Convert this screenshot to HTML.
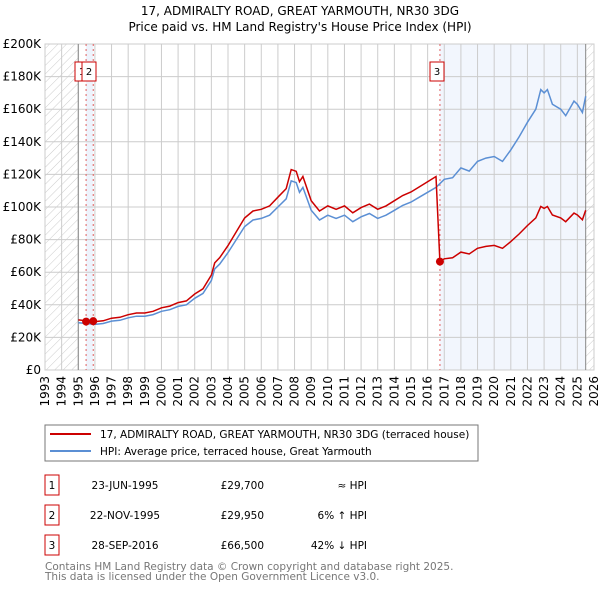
<!DOCTYPE html>
<html><head><meta charset="utf-8"><style>
body{margin:0;background:#fff;width:600px;height:590px;overflow:hidden;font-family:"DejaVu Sans","Liberation Sans",sans-serif}
svg text{font-family:"DejaVu Sans","Liberation Sans",sans-serif}
</style></head><body>
<svg id="c" width="600" height="590" xmlns="http://www.w3.org/2000/svg">
<defs><pattern id="h" width="6" height="6" patternUnits="userSpaceOnUse" patternTransform="rotate(45)"><line x1="0" y1="0" x2="0" y2="6" stroke="#ccc" stroke-width="1"/></pattern></defs>
<text x="300" y="15" text-anchor="middle" font-size="12">17, ADMIRALTY ROAD, GREAT YARMOUTH, NR30 3DG</text>
<text x="300" y="31" text-anchor="middle" font-size="12">Price paid vs. HM Land Registry's House Price Index (HPI)</text>
<g id="plot"></g>
<rect x="45" y="425" width="433" height="36" fill="#fff" stroke="#777"/>
<line x1="50" y1="434" x2="91" y2="434" stroke="#cc0000" stroke-width="2"/>
<text x="100" y="438" font-size="10.5">17, ADMIRALTY ROAD, GREAT YARMOUTH, NR30 3DG (terraced house)</text>
<line x1="50" y1="451" x2="91" y2="451" stroke="#5b8fd4" stroke-width="2"/>
<text x="100" y="455" font-size="10.5">HPI: Average price, terraced house, Great Yarmouth</text>
<g font-size="10.5">
<rect x="45" y="475" width="14" height="20" fill="none" stroke="#cc0000"/><text x="52" y="489" text-anchor="middle">1</text>
<text x="125" y="489" text-anchor="middle">23-JUN-1995</text><text x="264" y="489" text-anchor="end">£29,700</text><text x="367" y="489" text-anchor="end">≈ HPI</text>
<rect x="45" y="505" width="14" height="20" fill="none" stroke="#cc0000"/><text x="52" y="519" text-anchor="middle">2</text>
<text x="125" y="519" text-anchor="middle">22-NOV-1995</text><text x="264" y="519" text-anchor="end">£29,950</text><text x="367" y="519" text-anchor="end">6% ↑ HPI</text>
<rect x="45" y="535" width="14" height="20" fill="none" stroke="#cc0000"/><text x="52" y="549" text-anchor="middle">3</text>
<text x="125" y="549" text-anchor="middle">28-SEP-2016</text><text x="264" y="549" text-anchor="end">£66,500</text><text x="367" y="549" text-anchor="end">42% ↓ HPI</text>
</g>
<text x="45" y="570" font-size="10.5" fill="#777">Contains HM Land Registry data © Crown copyright and database right 2025.</text>
<text x="45" y="580" font-size="10.5" fill="#777">This data is licensed under the Open Government Licence v3.0.</text>
</svg>
<script>
const hpiYears=[1995,1995.5,1996,1996.5,1997,1997.5,1998,1998.5,1999,1999.5,2000,2000.5,2001,2001.5,2002,2002.5,2003,2003.2,2003.5,2004,2004.5,2005,2005.5,2006,2006.5,2007,2007.5,2007.8,2008.1,2008.3,2008.5,2009,2009.5,2010,2010.5,2011,2011.5,2012,2012.5,2013,2013.5,2014,2014.5,2015,2015.5,2016,2016.5,2017,2017.5,2018,2018.5,2019,2019.5,2020,2020.5,2021,2021.5,2022,2022.5,2022.8,2023,2023.2,2023.5,2024,2024.3,2024.8,2025,2025.3,2025.5];
const hpiValues=[29,28.5,28,28.5,30,30.5,32,33,33,34,36,37,39,40,44,47,55,62,65,72,80,88,92,93,95,100,105,116,115,109,112,98,92,95,93,95,91,94,96,93,95,98,101,103,106,109,112,117,118,124,122,128,130,131,128,135,143,152,160,172,170,172,163,160,156,165,163,158,168];
const sales=[[1995.47,29.7],[1995.9,29.95],[2016.74,66.5]];
const saleLabels=["1","2","3"];
const yTicks=[0,20,40,60,80,100,120,140,160,180,200];
const xYears=[1993,1994,1995,1996,1997,1998,1999,2000,2001,2002,2003,2004,2005,2006,2007,2008,2009,2010,2011,2012,2013,2014,2015,2016,2017,2018,2019,2020,2021,2022,2023,2024,2025,2026];
const preRatio=1.06, postRatio=66.5/114;
const X0=45,X1=594,Y0=370,Y1=44;
const sx=t=>X0+(t-1993)/(2026-1993)*(X1-X0);
const sy=v=>Y0-v/200*(Y0-Y1);
const NS='http://www.w3.org/2000/svg';
const g=document.getElementById('plot');
function mk(tag,a,p){const e=document.createElementNS(NS,tag);for(const k in a)e.setAttribute(k,a[k]);(p||g).appendChild(e);return e;}
let e;
e=mk('rect',{x:X0,y:Y1,width:X1-X0,height:Y0-Y1,fill:'#fff',stroke:'#ccc'});


e=mk('rect',{x:X0,y:Y1,width:sx(1995)-X0,height:Y0-Y1,fill:'url(#h)'});


e=mk('rect',{x:sx(2025.5),y:Y1,width:X1-sx(2025.5),height:Y0-Y1,fill:'url(#h)'});


e=mk('rect',{x:sx(sales[0][0]),y:Y1,width:sx(sales[1][0])-sx(sales[0][0]),height:Y0-Y1,fill:'#eef3fc'});


e=mk('rect',{x:sx(sales[2][0]),y:Y1,width:sx(2025.5)-sx(sales[2][0]),height:Y0-Y1,fill:'#f2f6fd'});


yTicks.forEach(v=>{
 e=mk('line',{x1:X0,x2:X1,y1:sy(v),y2:sy(v),stroke:'#ccc'});
 
 
 e=mk('text',{x:X0-4,y:sy(v)+4,'text-anchor':'end','font-size':12});
 e.textContent=v===0?'£0':'£'+v+'K';
 
 
});
xYears.forEach(y=>{
 e=mk('line',{x1:sx(y),x2:sx(y),y1:Y1,y2:Y0,stroke:'#ccc'});
 
 
 e=mk('text',{x:0,y:0,'font-size':12,'text-anchor':'end',transform:`translate(${sx(y)+4},${Y0+6}) rotate(-90)`});
 e.textContent=y;
 
 
});
e=mk('line',{x1:sx(1995),x2:sx(1995),y1:Y1,y2:Y0,stroke:'#888'});


e=mk('line',{x1:sx(2025.5),x2:sx(2025.5),y1:Y1,y2:Y0,stroke:'#888'});


sales.forEach((s,i)=>{
 e=mk('line',{x1:sx(s[0]),x2:sx(s[0]),y1:Y1,y2:Y0,stroke:'#e06060','stroke-dasharray':'2,3'});
 
 
});
const hp=hpiYears.map((t,i)=>sx(t).toFixed(1)+','+sy(hpiValues[i]).toFixed(1)).join(' ');
e=mk('polyline',{points:hp,fill:'none',stroke:'#5b8fd4','stroke-width':1.5});


const pts=[];
hpiYears.forEach((t,i)=>{ if(t<sales[2][0]) pts.push([t,hpiValues[i]*preRatio]); });
pts.push([sales[2][0],sales[2][1]]);
hpiYears.forEach((t,i)=>{ if(t>sales[2][0]) pts.push([t,hpiValues[i]*postRatio]); });
e=mk('polyline',{points:pts.map(p=>sx(p[0]).toFixed(1)+','+sy(p[1]).toFixed(1)).join(' '),fill:'none',stroke:'#cc0000','stroke-width':1.5});


const boxX=[75,82,430];
sales.forEach((s,i)=>{
 e=mk('circle',{cx:sx(s[0]),cy:sy(s[1]),r:4,fill:'#cc0000'});
 
 
 const bx=boxX[i];
 e=mk('rect',{x:bx,y:62,width:14,height:19,fill:'#fff',stroke:'#cc0000'});
 
 
 e=mk('text',{x:bx+7,y:75,'text-anchor':'middle','font-size':10});
 e.textContent=saleLabels[i];
 
 
});
</script>
</body></html>
